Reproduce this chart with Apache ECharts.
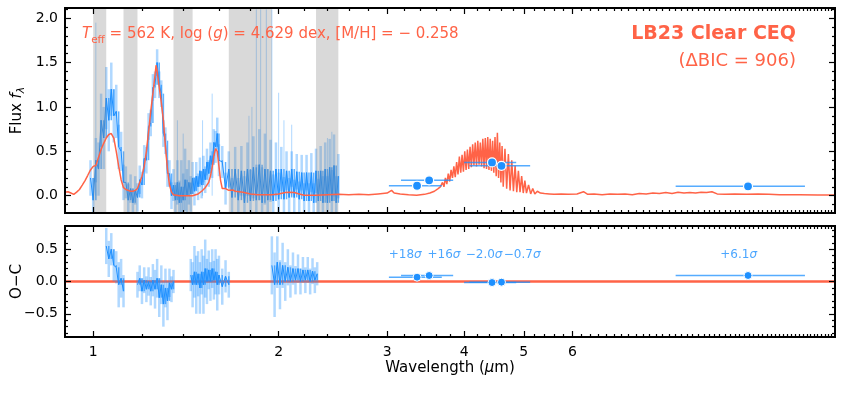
<!DOCTYPE html>
<html><head><meta charset="utf-8">
<script src="https://cdn.jsdelivr.net/npm/echarts@6/dist/echarts.min.js"></script>
<style>html,body{margin:0;padding:0;background:#fff}#c{width:844px;height:394px}</style>
</head><body><div id="c"></div>
<script>
// ---------------- data ----------------
const specWave = [0.99,1.00,1.01,1.02,1.03,1.04,1.05,1.06,1.07,1.08,1.09,
  1.10,1.11,1.12,1.13,1.14,1.15,1.16,1.17,1.18,1.19,
  1.20,1.21,1.22,1.23,1.24,1.25,1.26,1.27,1.28,1.29,
  1.30,1.31,1.32,1.33,1.34,1.35,1.36,1.37,1.38,1.39,
  1.40,1.41,1.42,1.43,1.44,1.45,1.46,1.47,1.48,1.49,
  1.50,1.51,1.52,1.53,1.54,1.55,1.56,1.57,1.58,1.59,1.60,
  1.62,1.64,1.66,1.68,1.70,1.72,1.74,1.76,1.78,1.80,1.82,1.84,1.86,1.88,1.90,1.92,1.94,1.96,1.98,2.00,
  2.02,2.04,2.06,2.08,2.10,2.12,2.14,2.16,2.18,2.20,2.22,2.24,2.26,2.28,2.30,2.32,2.34,2.36,2.38,2.40,2.42,2.44,2.46,2.48,2.50];
const specFlux = [0.20,-0.05,0.40,0.30,0.85,0.65,1.10,0.85,1.20,0.90,0.95,
  0.55,0.50,0.15,0.15,-0.05,0.08,-0.08,0.06,-0.02,0.18,
  0.12,0.42,0.40,0.78,0.82,1.22,1.25,1.50,1.25,1.15,
  0.70,0.62,0.25,0.25,0.00,0.12,-0.05,0.15,-0.08,0.10,
  -0.05,0.18,0.00,0.15,0.02,0.20,0.05,0.22,0.10,0.28,
  0.12,0.30,0.18,0.38,0.25,0.45,0.35,0.60,0.55,0.70,0.40,
  0.38,0.08,0.30,-0.02,0.30,-0.05,0.28,-0.08,0.30,-0.06,0.32,-0.05,0.35,-0.08,0.30,-0.05,0.28,-0.06,0.30,-0.04,
  0.30,-0.04,0.28,-0.02,0.30,-0.02,0.27,-0.04,0.26,-0.06,0.26,-0.06,0.26,-0.08,0.28,-0.06,0.28,-0.08,0.30,-0.08,0.32,-0.06,0.34,-0.08,0.22];
const specErr = [0.20,0.25,0.25,0.30,0.30,0.35,0.35,0.35,0.30,0.30,0.30,
  0.25,0.22,0.20,0.18,0.18,0.16,0.16,0.16,0.16,0.16,
  0.15,0.15,0.15,0.15,0.15,0.15,0.15,0.15,0.15,0.15,
  0.15,0.15,0.15,0.15,0.15,0.18,0.20,0.25,0.25,0.30,
  0.30,0.35,0.30,0.25,0.20,0.18,0.16,0.16,0.15,0.15,
  0.15,0.15,0.15,0.15,0.15,0.15,0.15,0.15,0.18,0.18,0.18,
  0.18,0.18,0.20,0.22,0.25,0.25,0.28,0.30,0.30,0.35,0.35,0.40,0.40,0.40,0.40,0.35,0.35,0.30,0.30,0.30,
  0.25,0.25,0.22,0.22,0.20,0.20,0.20,0.20,0.20,0.20,0.20,0.20,0.22,0.22,0.25,0.25,0.28,0.30,0.30,0.30,0.32,0.35,0.35,0.30,0.25];
const spikeWave = [1.01,1.37,1.40,1.505,1.56,1.79,1.81,1.84,1.87,1.91,1.95,2.00,2.04,2.10,2.40,2.44];
const spikeTop  = [1.95,0.85,0.70,0.85,1.15,0.90,1.00,2.10,2.10,2.10,2.10,1.16,0.85,0.80,0.65,0.72];

const bandStart = [1.00,1.12,1.35,1.66,2.30];
const bandEnd   = [1.05,1.18,1.45,1.95,2.50];

const modelWave = [0.90,0.91,0.92,0.93,0.94,0.95,0.96,0.97,0.98,0.99,1.00,1.01,1.02,1.03,1.04,1.05,1.06,1.07,1.08,1.09,
  1.10,1.11,1.12,1.13,1.14,1.15,1.16,1.17,1.18,1.19,1.20,1.21,1.22,1.23,1.24,1.25,1.26,1.265,1.27,1.28,1.29,
  1.30,1.31,1.32,1.33,1.34,1.35,1.38,1.42,1.45,1.48,1.50,1.52,1.54,1.55,1.56,1.57,1.58,1.59,1.60,1.61,1.62,1.64,1.66,1.685,
  1.70,1.75,1.80,1.85,1.90,1.95,2.00,2.05,2.08,2.12,2.16,2.20,2.30,2.40,2.50,2.60,2.70,2.80,2.90,3.00,3.05,3.08,3.15,3.25,3.35,3.45,3.52,3.58,3.63,3.66,
  3.69,3.71,3.73,3.75,3.77,3.79,3.81,3.83,3.85,3.87,3.89,3.91,3.93,3.95,3.97,3.99,4.01,4.03,4.05,4.07,4.09,4.11,4.13,4.15,4.17,4.19,
  4.21,4.23,4.25,4.27,4.29,4.31,4.33,4.35,4.37,4.39,4.41,4.43,4.45,4.47,4.49,4.51,4.53,4.55,4.57,4.59,4.61,4.63,4.66,4.69,
  4.72,4.75,4.78,4.81,4.84,4.87,4.90,4.93,4.96,4.99,5.02,5.05,5.09,5.13,5.17,5.21,5.26,5.32,5.40,5.50,5.60,5.75,5.90,6.10,6.25,6.35,
  6.50,6.70,6.90,7.10,7.30,7.50,7.70,7.90,8.10,8.30,8.50,8.70,8.90,9.10,9.30,9.50,9.70,9.90,10.1,10.3,10.6,11.0,11.5,12.0,12.5,13.0,14.0,15.0,16.0];
const modelFlux = [0.04,0.045,0.03,0.015,0.04,0.07,0.12,0.17,0.23,0.29,0.33,0.34,0.43,0.52,0.59,0.65,0.69,0.70,0.65,0.50,
  0.33,0.18,0.09,0.07,0.06,0.05,0.05,0.06,0.08,0.15,0.22,0.33,0.50,0.72,0.95,1.15,1.36,1.47,1.40,1.22,1.05,
  0.85,0.55,0.30,0.12,0.04,0.01,0.00,0.00,0.00,0.02,0.05,0.09,0.15,0.22,0.32,0.45,0.53,0.50,0.33,0.17,0.08,0.08,0.06,0.065,
  0.05,0.04,0.02,0.01,0.01,0.01,0.02,0.035,0.04,0.035,0.02,0.005,0.005,0.01,0.015,0.01,0.015,0.01,0.02,0.03,0.06,0.03,0.02,0.01,0.005,0.015,0.03,0.05,0.08,0.10,
  0.15,0.10,0.20,0.13,0.25,0.16,0.29,0.20,0.33,0.21,0.38,0.24,0.44,0.26,0.46,0.27,0.50,0.29,0.52,0.30,0.55,0.32,0.58,0.34,0.60,0.33,
  0.62,0.35,0.60,0.33,0.64,0.31,0.65,0.30,0.66,0.29,0.64,0.28,0.62,0.26,0.66,0.22,0.71,0.20,0.60,0.15,0.56,0.10,0.53,0.08,
  0.47,0.06,0.40,0.05,0.34,0.04,0.28,0.04,0.22,0.03,0.17,0.03,0.12,0.02,0.08,0.02,0.05,0.03,0.025,0.02,0.015,0.02,0.015,0.02,0.045,0.015,
  0.02,0.01,0.02,0.015,0.02,0.01,0.025,0.02,0.03,0.025,0.035,0.025,0.04,0.03,0.035,0.03,0.04,0.035,0.045,0.02,0.015,0.02,0.015,0.02,0.015,0.01,0.01,0.008,0.008];

const resWave = [1.05,1.06,1.07,1.08,1.09,1.10,1.11,1.12,1.15,
  1.18,1.19,1.20,1.21,1.22,1.23,1.24,1.25,1.26,1.27,1.28,1.29,1.30,1.31,1.32,1.33,1.34,1.35,1.40,
  1.44,1.45,1.46,1.47,1.48,1.49,1.50,1.51,1.52,1.53,1.54,1.55,1.56,1.57,1.58,1.59,1.60,1.62,1.64,1.66,1.80,
  1.95,1.97,1.99,2.01,2.03,2.05,2.07,2.09,2.11,2.13,2.15,2.17,2.19,2.21,2.23,2.25,2.27,2.29,2.31];
const resFlux = [0.55,0.35,0.50,0.25,0.22,-0.05,0.05,-0.15,null,
  -0.05,0.05,-0.15,0.02,-0.12,0.00,-0.15,0.02,-0.12,0.05,-0.25,-0.05,-0.35,-0.10,-0.30,-0.02,-0.12,0.00,null,
  0.10,-0.05,0.15,-0.05,0.12,-0.10,0.15,-0.05,0.20,0.00,0.18,0.00,0.20,0.02,0.15,-0.05,0.10,-0.08,0.08,-0.05,null,
  0.25,-0.05,0.30,-0.05,0.25,0.00,0.22,0.00,0.20,0.02,0.20,0.00,0.18,0.02,0.18,0.00,0.16,0.02,0.12];
const resErr = [0.28,0.28,0.25,0.25,0.25,0.35,0.30,0.25,null,
  0.20,0.20,0.20,0.20,0.20,0.22,0.22,0.25,0.30,0.30,0.30,0.30,0.35,0.30,0.30,0.22,0.20,0.18,null,
  0.25,0.35,0.40,0.45,0.35,0.40,0.35,0.45,0.45,0.35,0.30,0.30,0.30,0.30,0.35,0.40,0.30,0.28,0.25,0.20,null,
  0.45,0.50,0.40,0.38,0.35,0.30,0.28,0.25,0.25,0.22,0.22,0.20,0.20,0.20,0.20,0.20,0.20,0.20,0.18];

const photWave  = [3.355,3.51,4.44,4.60,11.56];
const photLo    = [3.02,3.16,4.00,4.08,8.82];
const photHi    = [3.68,3.84,4.86,5.12,14.3];
const photFlux  = [0.112,0.173,0.375,0.337,0.106];
const photResid = [0.067,0.093,-0.016,-0.010,0.093];
const sigmaText = ['+18σ','+16σ','−2.0σ','−0.7σ','+6.1σ'];
const sigmaLabelWave = [3.21,3.71,4.31,4.97,11.16];
const sigmaLabelY = 0.41;

const zeroWave = [0.9,16];
const zeroVal = [0,0];

const xTickLabels = [1,2,3,4,5,6];
const yTopTicks = [0,0.5,1.0,1.5,2.0];
const yBotTicks = [-0.5,0,0.5];

// ---------------- build ----------------
const L = Math.log10;
const FONT = 'DejaVu Sans';
const RED = '#ff6347', BLUE = '#1e90ff';
const XMIN = L(0.9), XMAX = L(16);
const Y0 = [-0.195, 2.115], Y1 = [-0.86, 0.86];

const majorX = xTickLabels.map(L);
const minorX = [];
for (let k = 6; k < 80; k++) { const v = k * 0.2; if (Math.abs(v - Math.round(v)) < 1e-9 && v <= 6.01) continue; minorX.push(L(v)); }
function minorY(lo, hi) { const r = []; for (let k = Math.ceil(lo * 10); k <= Math.floor(hi * 10); k++) { if (k % 5 !== 0) r.push(k / 10); } return r; }

function mkX(grid, pos, ticks, len, extra) {
  return Object.assign({
    type: 'value', gridIndex: grid, position: pos, min: XMIN, max: XMAX, z: 10,
    axisLine: { show: true, onZero: false, lineStyle: { color: '#000', width: 2 } },
    axisTick: { show: true, inside: true, length: len, customValues: ticks, lineStyle: { color: '#000', width: 1.2 } },
    axisLabel: { show: false }, splitLine: { show: false }
  }, extra || {});
}
function mkY(grid, pos, range, ticks, len, extra) {
  return Object.assign({
    type: 'value', gridIndex: grid, position: pos, min: range[0], max: range[1], z: 10,
    axisLine: { show: true, onZero: false, lineStyle: { color: '#000', width: 2 } },
    axisTick: { show: true, inside: true, length: len, customValues: ticks, lineStyle: { color: '#000', width: 1.2 } },
    axisLabel: { show: false }, splitLine: { show: false }
  }, extra || {});
}
const fmtY = v => (Math.abs(v) < 1e-9 ? '0.0' : (v < 0 ? '\u2212' + Math.abs(v).toFixed(1) : v.toFixed(1)));

const xAxes = [
  mkX(0, 'bottom', majorX, 6), mkX(0, 'bottom', minorX, 3), mkX(0, 'top', majorX, 6), mkX(0, 'top', minorX, 3),
  mkX(1, 'bottom', majorX, 6, {
    axisLabel: { show: true, customValues: majorX, formatter: v => String(Math.round(Math.pow(10, v))), color: '#000', fontSize: 14, fontFamily: FONT, margin: 8 },
    name: 'Wavelength ({i|\u03bc}m)', nameLocation: 'middle', nameGap: 24, nameMoveOverlap: false,
    nameTextStyle: { color: '#000', fontSize: 15, fontFamily: FONT, rich: { i: { fontStyle: 'italic', fontSize: 15, fontFamily: FONT } } }
  }),
  mkX(1, 'bottom', minorX, 3), mkX(1, 'top', majorX, 6), mkX(1, 'top', minorX, 3)
];
const yAxes = [
  mkY(0, 'left', Y0, yTopTicks, 6, {
    axisLabel: { show: true, customValues: yTopTicks, formatter: fmtY, color: '#000', fontSize: 14, fontFamily: FONT, margin: 7 },
    name: 'Flux {i|f}{s|\u03bb}', nameLocation: 'middle', nameGap: 38, nameMoveOverlap: false,
    nameTextStyle: { color: '#000', fontSize: 15, fontFamily: FONT, lineHeight: 20,
      rich: { i: { fontStyle: 'italic', fontSize: 15, fontFamily: FONT, lineHeight: 20 }, s: { fontStyle: 'italic', fontSize: 11, fontFamily: FONT, lineHeight: 10, verticalAlign: 'bottom' } } }
  }),
  mkY(0, 'left', Y0, minorY(Y0[0], Y0[1]), 3), mkY(0, 'right', Y0, yTopTicks, 6), mkY(0, 'right', Y0, minorY(Y0[0], Y0[1]), 3),
  mkY(1, 'left', Y1, yBotTicks, 6, {
    axisLabel: { show: true, customValues: yBotTicks, formatter: fmtY, color: '#000', fontSize: 14, fontFamily: FONT, margin: 7 },
    name: 'O\u2212C', nameLocation: 'middle', nameGap: 38, nameMoveOverlap: false,
    nameTextStyle: { color: '#000', fontSize: 15, fontFamily: FONT, lineHeight: 20 }
  }),
  mkY(1, 'left', Y1, minorY(Y1[0], Y1[1]), 3), mkY(1, 'right', Y1, yBotTicks, 6), mkY(1, 'right', Y1, minorY(Y1[0], Y1[1]), 3)
];

function clampY(cs, y) { return Math.max(cs.y, Math.min(cs.y + cs.height, y)); }
function vRender(color, width) {
  return function (params, api) {
    const x = api.value(0), a = api.value(1), b = api.value(2);
    const p1 = api.coord([x, a]), p2 = api.coord([x, b]);
    const cs = params.coordSys;
    return { type: 'line', shape: { x1: p1[0], y1: clampY(cs, p1[1]), x2: p2[0], y2: clampY(cs, p2[1]) }, style: { stroke: color, lineWidth: width } };
  };
}
function hRender(params, api) {
  const p1 = api.coord([api.value(0), api.value(2)]), p2 = api.coord([api.value(1), api.value(2)]);
  return { type: 'line', shape: { x1: p1[0], y1: p1[1], x2: p2[0], y2: p2[1] }, style: { stroke: BLUE, lineWidth: 1.5, opacity: 0.75 } };
}
function bandRender(params, api) {
  const cs = params.coordSys;
  const p1 = api.coord([api.value(0), 0]), p2 = api.coord([api.value(1), 0]);
  return { type: 'rect', shape: { x: p1[0], y: cs.y, width: p2[0] - p1[0], height: cs.height }, style: { fill: 'rgba(128,128,128,0.3)' } };
}

// dark "core": each sample spans from its value to the previous sample's value
function coreData(wave, flux) {
  const out = [];
  for (let i = 1; i < wave.length; i++) {
    if (flux[i] === null || flux[i - 1] === null) continue;
    out.push([L(wave[i]), Math.min(flux[i], flux[i - 1]), Math.max(flux[i], flux[i - 1])]);
  }
  return out;
}

const specErrData = specWave.map((w, i) => [L(w), specFlux[i] - specErr[i], specFlux[i] + specErr[i]]);
const spikeData = spikeWave.map((w, i) => [L(w), 0, spikeTop[i]]);
const specLineData = specWave.map((w, i) => [L(w), specFlux[i]]);
const bandData = bandStart.map((s, i) => [L(s), L(bandEnd[i])]);
const modelData = modelWave.map((w, i) => [L(w), modelFlux[i]]);
const resErrData = [];
resWave.forEach((w, i) => { if (resFlux[i] !== null) resErrData.push([L(w), resFlux[i] - resErr[i], resFlux[i] + resErr[i]]); });
const resLineData = resWave.map((w, i) => [L(w), resFlux[i] === null ? '-' : resFlux[i]]);
const photErrTop = photWave.map((w, i) => [L(photLo[i]), L(photHi[i]), photFlux[i]]);
const photErrBot = photWave.map((w, i) => [L(photLo[i]), L(photHi[i]), photResid[i]]);
const photTop = photWave.map((w, i) => [L(w), photFlux[i]]);
const photBot = photWave.map((w, i) => [L(w), photResid[i]]);
const sigmaData = sigmaLabelWave.map((w, i) => [L(w), sigmaLabelY]);

const LIGHT = 'rgba(30,144,255,0.35)';
const CORE = 'rgba(30,144,255,0.7)';
const g0 = { xAxisIndex: 0, yAxisIndex: 0 }, g1 = { xAxisIndex: 4, yAxisIndex: 4 };
const series = [
  Object.assign({ type: 'line', data: zeroWave.map((w, i) => [L(w), zeroVal[i]]), showSymbol: false, lineStyle: { color: RED, width: 2.5 }, z: 1, silent: true }, g1),
  Object.assign({ type: 'custom', data: specErrData, encode: { x: 0, y: [1, 2] }, renderItem: vRender(LIGHT, 2.5), z: 2, silent: true }, g0),
  Object.assign({ type: 'custom', data: spikeData, encode: { x: 0, y: [1, 2] }, renderItem: vRender(LIGHT, 1), z: 2, silent: true }, g0),
  Object.assign({ type: 'custom', data: coreData(specWave, specFlux), encode: { x: 0, y: [1, 2] }, renderItem: vRender(CORE, 1.5), z: 3, silent: true }, g0),
  Object.assign({ type: 'line', data: specLineData, showSymbol: false, lineStyle: { color: BLUE, width: 1 }, z: 3, silent: true }, g0),
  Object.assign({ type: 'custom', data: bandData, encode: { x: [0, 1] }, renderItem: bandRender, z: 4, silent: true }, g0),
  Object.assign({ type: 'line', data: modelData, showSymbol: false, lineStyle: { color: RED, width: 1.5 }, z: 5, silent: true }, g0),
  Object.assign({ type: 'custom', data: resErrData, encode: { x: 0, y: [1, 2] }, renderItem: vRender(LIGHT, 2.5), z: 2, silent: true }, g1),
  Object.assign({ type: 'custom', data: coreData(resWave, resFlux), encode: { x: 0, y: [1, 2] }, renderItem: vRender(CORE, 1.5), z: 3, silent: true }, g1),
  Object.assign({ type: 'line', data: resLineData, showSymbol: false, connectNulls: false, lineStyle: { color: BLUE, width: 1 }, z: 3, silent: true }, g1),
  Object.assign({ type: 'custom', data: photErrTop, encode: { x: [0, 1], y: 2 }, renderItem: hRender, z: 6, silent: true }, g0),
  Object.assign({ type: 'scatter', data: photTop, symbolSize: 9, itemStyle: { color: BLUE, borderColor: '#fff', borderWidth: 1.2, opacity: 1 }, z: 7, silent: true }, g0),
  Object.assign({ type: 'custom', data: photErrBot, encode: { x: [0, 1], y: 2 }, renderItem: hRender, z: 6, silent: true }, g1),
  Object.assign({ type: 'scatter', data: photBot, symbolSize: 8, itemStyle: { color: BLUE, borderColor: '#fff', borderWidth: 1, opacity: 1 }, z: 7, silent: true }, g1),
  Object.assign({ type: 'scatter', data: sigmaData, symbolSize: 1, itemStyle: { color: 'rgba(0,0,0,0)' }, z: 8, silent: true,
    label: { show: true, position: 'inside', color: BLUE, fontSize: 12, fontFamily: FONT,
      formatter: p => sigmaText[p.dataIndex].replace('\u03c3', '{s|\u03c3}'),
      rich: { s: { fontStyle: 'italic', fontSize: 12, fontFamily: FONT, color: BLUE } } } }, g1)
];

const richT = {
  n: { fontSize: 15, fontFamily: FONT, lineHeight: 22, fill: RED },
  it: { fontSize: 15, fontFamily: FONT, fontStyle: 'italic', lineHeight: 22, fill: RED },
  sub: { fontSize: 10.5, fontFamily: FONT, lineHeight: 12, verticalAlign: 'bottom', fill: RED }
};

const chart = echarts.init(document.getElementById('c'), null, { renderer: 'canvas' });
chart.setOption({
  animation: false,
  backgroundColor: '#fff',
  grid: [
    { left: 65, right: 9, top: 8, height: 205, containLabel: false, outerBoundsMode: 'none' },
    { left: 65, right: 9, top: 226, height: 111, containLabel: false, outerBoundsMode: 'none' }
  ],
  xAxis: xAxes,
  yAxis: yAxes,
  series: series,
  graphic: [
    { type: 'text', left: 82, top: 27, z: 20, silent: true,
      style: { text: '{it|T}{sub|eff}{n| = 562 K, log (}{it|g}{n|) = 4.629 dex, [M/H] = \u2212 0.258}', rich: richT, fill: RED, font: '15px "DejaVu Sans"' } },
    { type: 'text', right: 48, top: 25, z: 20, silent: true,
      style: { text: 'LB23 Clear CEQ', fill: RED, font: 'bold 19px "DejaVu Sans"' } },
    { type: 'text', right: 48, top: 52, z: 20, silent: true,
      style: { text: '(\u0394BIC = 906)', fill: RED, font: '18px "DejaVu Sans"' } }
  ]
});
</script></body></html>
